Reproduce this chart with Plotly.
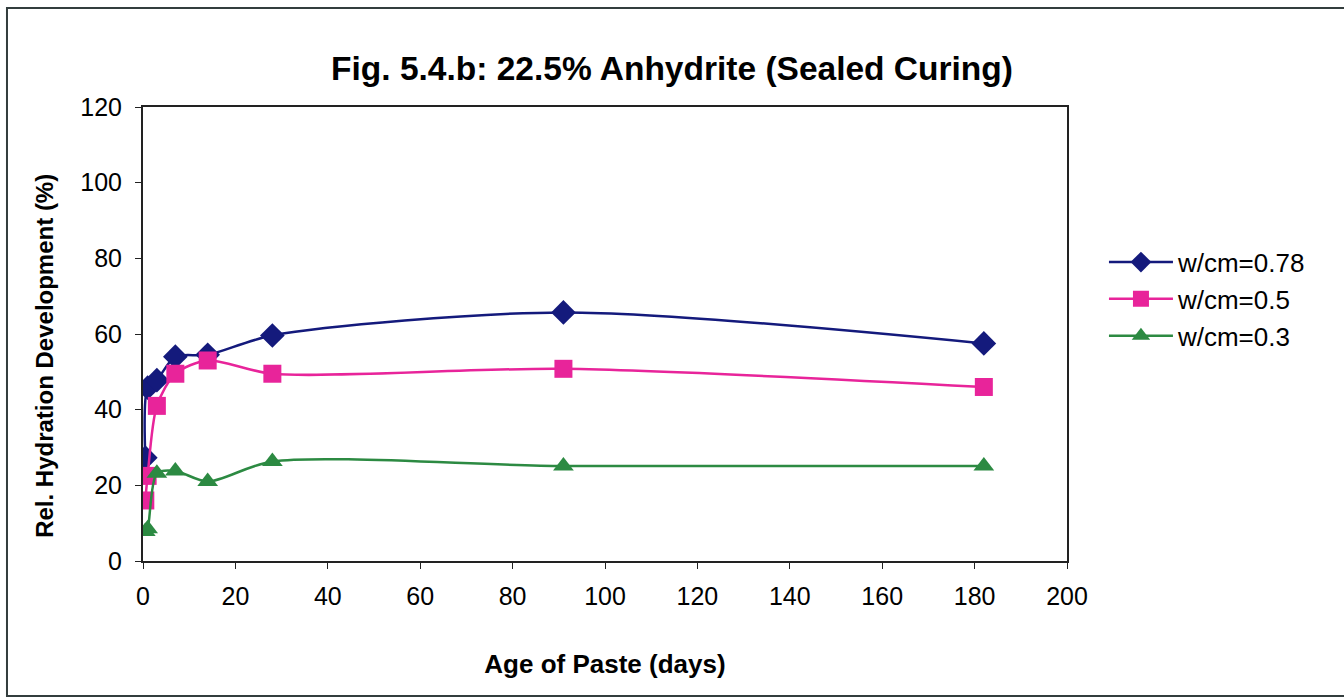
import plotly.graph_objects as go

# Age of paste (days) at each measurement
age_days = [0.5, 1, 3, 7, 14, 28, 91, 182]

# Relative hydration development (%) for each water/cementitious ratio
hyd_078 = [27.3, 45.8, 47.8, 54.0, 54.5, 59.6, 65.7, 57.5]
hyd_050 = [16.0, 22.5, 41.0, 49.5, 53.0, 49.5, 50.8, 46.0]
hyd_030 = [7.8, 8.5, 23.2, 23.8, 21.0, 26.3, 25.1, 25.1]

series_names = ["w/cm=0.78", "w/cm=0.5", "w/cm=0.3"]
series_values = [hyd_078, hyd_050, hyd_030]
series_colors = ["#141a7c", "#e8249a", "#2c8a42"]
series_symbols = ["diamond", "square", "triangle-up"]
series_sizes = [19, 18, 18]

x_ticks = [0, 20, 40, 60, 80, 100, 120, 140, 160, 180, 200]
y_ticks = [0, 20, 40, 60, 80, 100, 120]

FONT = "Liberation Sans, Arial, sans-serif"

fig = go.Figure()
for i, (name, vals, col, sym, sz) in enumerate(
        zip(series_names, series_values, series_colors, series_symbols, series_sizes)):
    fig.add_trace(go.Scatter(
        x=age_days, y=vals, name=name, mode="lines+markers",
        line=dict(color=col, width=2.5, shape="spline", smoothing=0.8),
        marker=dict(symbol=sym, size=sz, color=col, line=dict(width=0)),
        legendgroup=f"g{i}",
    ))

fig.update_layout(
    width=1344, height=697,
    margin=dict(l=143, r=277, t=107, b=136),
    paper_bgcolor="white", plot_bgcolor="white",
    font=dict(family=FONT, size=25, color="black"),
    title=dict(text="<b>Fig. 5.4.b: 22.5% Anhydrite (Sealed Curing)</b>",
               x=0.5, xanchor="center", y=0.902, yanchor="middle",
               font=dict(size=33.5, family=FONT, color="black")),
    showlegend=True,
    legend=dict(x=1.04, y=0.71, xanchor="left", yanchor="top",
                font=dict(size=26, family=FONT, color="black"),
                itemwidth=64, traceorder="grouped", tracegroupgap=0,
                bgcolor="rgba(0,0,0,0)"),
    # chart-area frame (open on the right edge)
    shapes=[dict(type="rect", xref="paper", yref="paper",
                 x0=-0.1472, x1=1.306, y0=-0.2974, y1=1.218,
                 line=dict(color="#333d3d", width=2))],
    annotations=[dict(text="<b>Rel. Hydration Development (%)</b>",
                      xref="paper", yref="paper", x=-0.106, y=0.452,
                      xanchor="center", yanchor="middle", textangle=-90,
                      showarrow=False, font=dict(size=24, family=FONT))],
)

fig.update_xaxes(
    range=[0, 200], tickvals=x_ticks, ticks="outside", ticklen=6,
    tickcolor="#222", showline=True, linecolor="#222", linewidth=2,
    mirror=True, showgrid=False, zeroline=False, ticklabelstandoff=6,
    tickfont=dict(size=25, family=FONT),
    title=dict(text="<b>Age of Paste (days)</b>", standoff=46,
               font=dict(size=26, family=FONT)),
)
fig.update_yaxes(
    range=[0, 120], tickvals=y_ticks, ticks="outside", ticklen=6,
    tickcolor="#222", showline=True, linecolor="#222", linewidth=2,
    mirror=True, showgrid=False, zeroline=False, ticklabelstandoff=8,
    tickfont=dict(size=25, family=FONT),
)

fig.write_html("out.html")
